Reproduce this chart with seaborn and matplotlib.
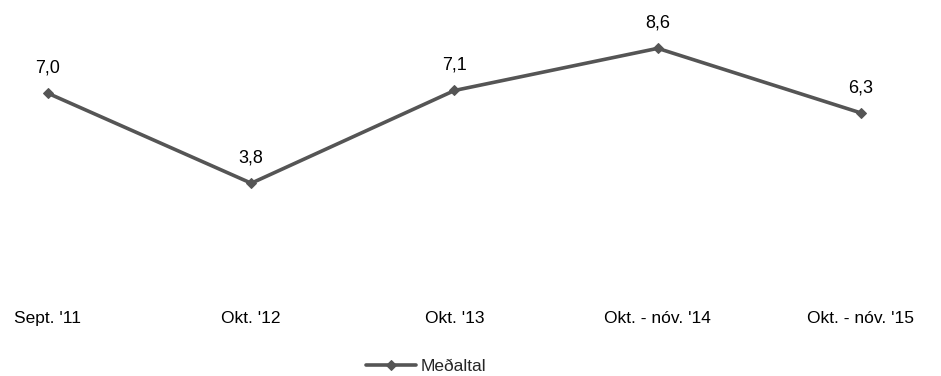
import matplotlib
matplotlib.use("Agg")
import matplotlib.pyplot as plt
import seaborn as sns
import pandas as pd

categories = ["Sept. '11", "Okt. '12", "Okt. '13", "Okt. - nóv. '14", "Okt. - nóv. '15"]
values = [7.0, 3.8, 7.1, 8.6, 6.3]
series_name = "Meðaltal"

sns.set_theme(style="white")
plt.rcParams['font.family'] = ['Liberation Sans', 'DejaVu Sans']

df = pd.DataFrame({"pos": range(len(categories)), "val": values, "series": series_name})

fig = plt.figure(figsize=(9.41, 3.76), dpi=100)
ax = fig.add_axes([48/941, (376-290)/376, (861-48)/941, (290-9)/376])
color = "#555555"
sns.lineplot(data=df, x="pos", y="val", hue="series", palette=[color], marker="D",
             markersize=5, linewidth=2.6, markeredgecolor=color, ax=ax)
ax.set_xlim(0, len(categories) - 1)
ax.set_ylim(0, 10)
ax.set_xticks(range(len(categories)))
ax.set_xticklabels(categories, fontsize=12.5, color="#000000")
ax.tick_params(axis="x", length=0, pad=15)
ax.set_yticks([])
ax.set_xlabel("")
ax.set_ylabel("")
for s in ax.spines.values():
    s.set_visible(False)
for line in ax.lines:
    line.set_clip_on(False)

for i, v in enumerate(values):
    ax.annotate(f"{v:.1f}".replace(".", ","), (i, v), xytext=(0, 12), textcoords="offset points",
                ha="center", va="bottom", fontsize=13, color="#000000")

leg = ax.legend(loc="center", bbox_to_anchor=((426-48)/813, (376-366-86)/(290-9)), frameon=False,
                fontsize=12.5, handlelength=2.9, handletextpad=0.25)
fig.savefig("out.png", dpi=100)
